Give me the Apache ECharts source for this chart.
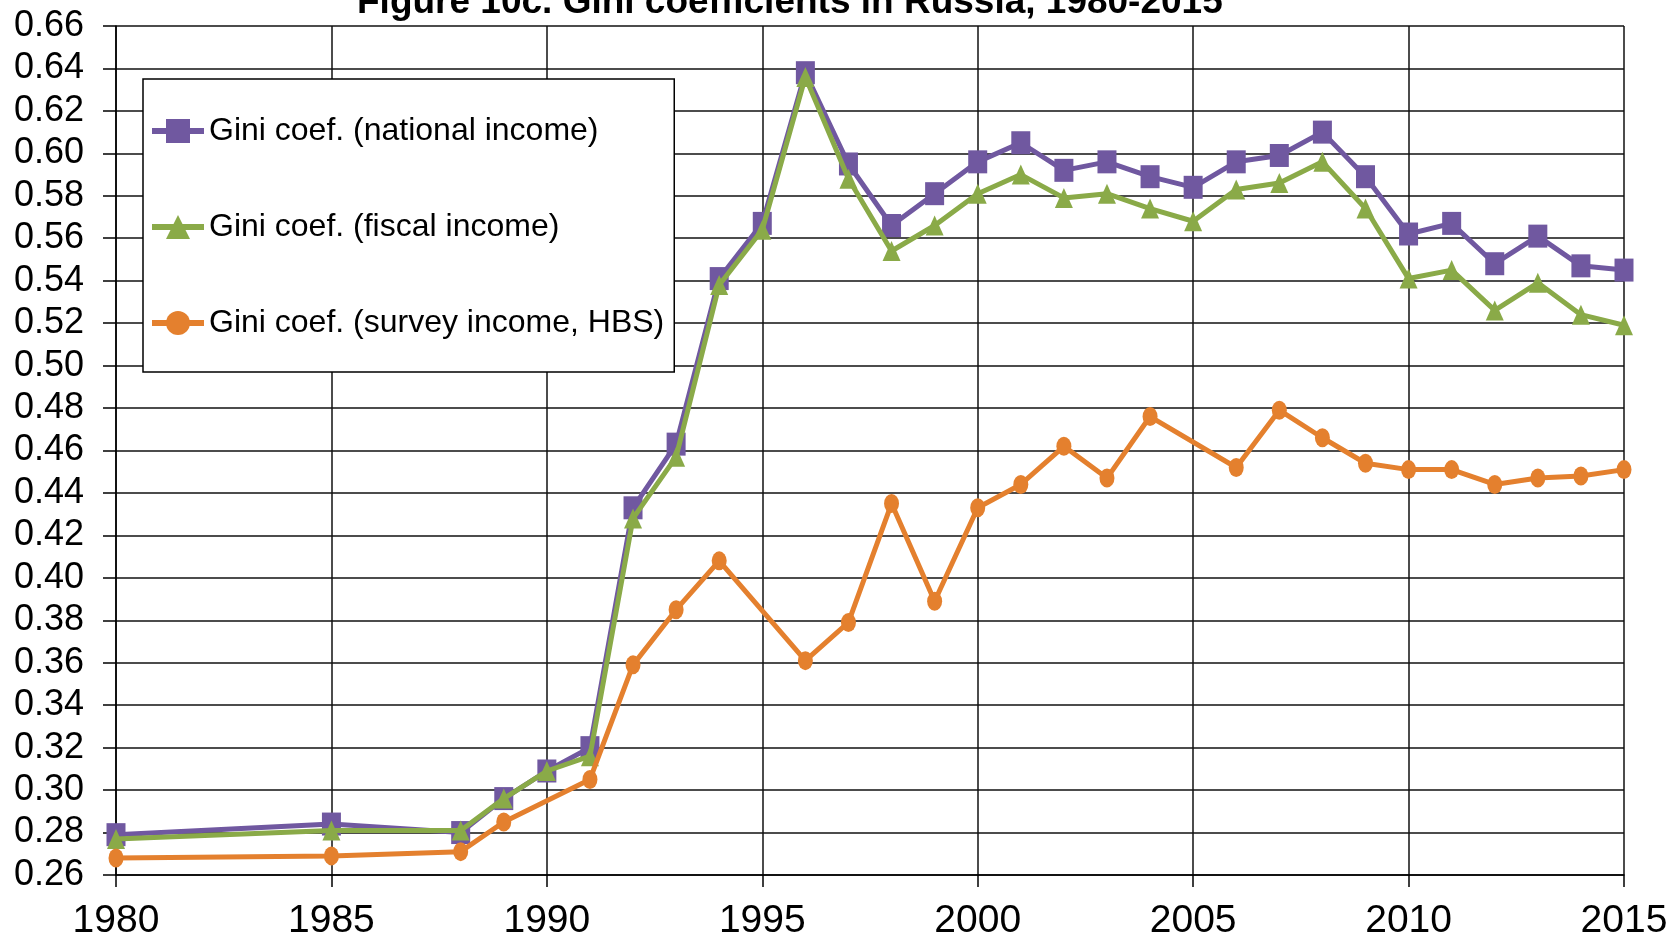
<!DOCTYPE html>
<html>
<head>
<meta charset="utf-8">
<script src="https://cdn.jsdelivr.net/npm/echarts@6/dist/echarts.min.js"></script>
<style>
  html, body { margin: 0; padding: 0; background: #fff; }
  #chart { width: 1680px; height: 941px; }
</style>
</head>
<body>
<div id="chart"></div>
<script>
// Gini coefficients in Russia
const titleText = 'Figure 10c. Gini coefficients in Russia, 1980-2015';
const seriesNames = [
  'Gini coef. (national income)',
  'Gini coef. (fiscal income)',
  'Gini coef. (survey income, HBS)'
];

const yearsFull = [1980, 1985, 1988, 1989, 1990, 1991, 1992, 1993, 1994, 1995, 1996, 1997,
  1998, 1999, 2000, 2001, 2002, 2003, 2004, 2005, 2006, 2007, 2008, 2009, 2010, 2011,
  2012, 2013, 2014, 2015];
const nationalIncome = [0.279, 0.284, 0.280, 0.296, 0.309, 0.320, 0.433, 0.463, 0.541, 0.567,
  0.638, 0.595, 0.566, 0.581, 0.596, 0.605, 0.592, 0.596, 0.589, 0.584, 0.596, 0.599,
  0.610, 0.589, 0.562, 0.567, 0.548, 0.561, 0.547, 0.545];
const fiscalIncome = [0.277, 0.281, 0.281, 0.296, 0.309, 0.316, 0.428, 0.457, 0.538, 0.564,
  0.636, 0.588, 0.554, 0.566, 0.581, 0.590, 0.579, 0.581, 0.574, 0.568, 0.583, 0.586,
  0.596, 0.574, 0.541, 0.545, 0.526, 0.539, 0.524, 0.519];

const yearsSurvey = [1980, 1985, 1988, 1989, 1991, 1992, 1993, 1994, 1996, 1997, 1998, 1999,
  2000, 2001, 2002, 2003, 2004, 2006, 2007, 2008, 2009, 2010, 2011, 2012, 2013, 2014, 2015];
const surveyIncome = [0.268, 0.269, 0.271, 0.285, 0.305, 0.359, 0.385, 0.408, 0.361, 0.379,
  0.435, 0.389, 0.433, 0.444, 0.462, 0.447, 0.476, 0.452, 0.479, 0.466, 0.454, 0.451,
  0.451, 0.444, 0.447, 0.448, 0.451];

const colors = ['#7058a0', '#8aaa48', '#e4802e'];
const fontFamily = '"Liberation Sans", Arial, sans-serif';

function pairs(xs, ys) {
  return xs.map((x, i) => [x, ys[i]]);
}

const chart = echarts.init(document.getElementById('chart'));

chart.setOption({
  animation: false,
  color: colors,
  title: {
    text: titleText,
    left: 357,
    top: -16,
    padding: 0,
    textStyle: { fontFamily: fontFamily, fontSize: 37, fontWeight: 'bold', color: '#000', lineHeight: 37 }
  },
  legend: {
    orient: 'vertical',
    left: 143,
    top: 79,
    backgroundColor: '#fff',
    borderColor: '#000',
    borderWidth: 1.5,
    padding: [36, 10, 33, 6],
    itemGap: 64,
    itemWidth: 52,
    itemHeight: 30,
    lineStyle: { width: 6 },
    textStyle: { fontFamily: fontFamily, fontSize: 32, color: '#000', lineHeight: 32 },
    data: seriesNames
  },
  grid: { left: 116, right: 56, top: 26, bottom: 65 },
  xAxis: {
    type: 'value',
    min: 1980,
    max: 2015,
    interval: 5,
    axisLine: { show: true, lineStyle: { color: '#000', width: 1.5 } },
    axisTick: { show: true, length: 12, lineStyle: { color: '#000', width: 1.5 } },
    axisLabel: {
      fontFamily: fontFamily, fontSize: 39, color: '#000', margin: 27, lineHeight: 39,
      formatter: v => String(v)
    },
    splitLine: { show: true, lineStyle: { color: '#111', width: 1.5 } }
  },
  yAxis: {
    type: 'value',
    min: 0.26,
    max: 0.66,
    interval: 0.02,
    axisLine: { show: true, lineStyle: { color: '#000', width: 1.5 } },
    axisTick: { show: true, length: 13, lineStyle: { color: '#000', width: 1.5 } },
    axisLabel: {
      fontFamily: fontFamily, fontSize: 36, color: '#000', margin: 32,
      formatter: v => v.toFixed(2)
    },
    splitLine: { show: true, lineStyle: { color: '#111', width: 1.5 } }
  },
  series: [
    {
      name: seriesNames[0],
      type: 'line',
      data: pairs(yearsFull, nationalIncome),
      symbol: 'rect',
      symbolSize: [19, 23],
      lineStyle: { width: 5, color: colors[0] },
      itemStyle: { color: colors[0] },
      z: 2
    },
    {
      name: seriesNames[1],
      type: 'line',
      data: pairs(yearsFull, fiscalIncome),
      symbol: 'triangle',
      symbolSize: [18, 20],
      lineStyle: { width: 5, color: colors[1] },
      itemStyle: { color: colors[1] },
      z: 3
    },
    {
      name: seriesNames[2],
      type: 'line',
      data: pairs(yearsSurvey, surveyIncome),
      symbol: 'circle',
      symbolSize: [15, 19],
      lineStyle: { width: 5, color: colors[2] },
      itemStyle: { color: colors[2] },
      z: 4
    }
  ]
});
</script>
</body>
</html>
